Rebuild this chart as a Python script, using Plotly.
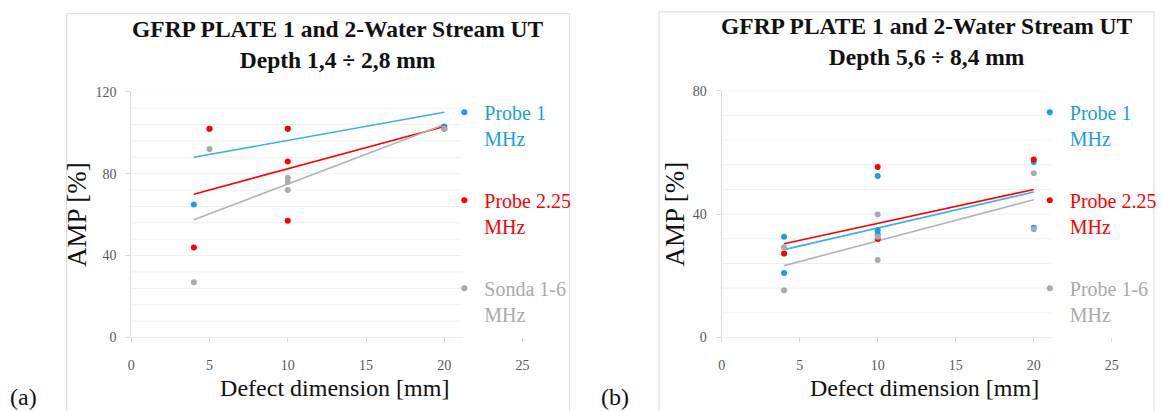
import plotly.graph_objects as go

# ---------------- data: panel (a) depth 1,4 ÷ 2,8 mm ----------------
a_p1_x = [4, 5, 10, 20]
a_p1_y = [65, 102, 102, 103]
a_p225_x = [4, 5, 10, 10, 10, 20]
a_p225_y = [44, 102, 102, 86, 57, 102]
a_s16_x = [4, 5, 10, 10, 10, 20]
a_s16_y = [27, 92, 78, 76, 72, 102]
# linear trend lines (end points)
a_trend_x = [4, 20]
a_p1_trend = [88, 110]
a_p225_trend = [70, 103]
a_s16_trend = [57.5, 104]

# ---------------- data: panel (b) depth 5,6 ÷ 8,4 mm ----------------
b_p1_x = [4, 4, 10, 10, 10, 20, 20]
b_p1_y = [32.7, 20.9, 52.4, 34.8, 33.5, 56.9, 35.6]
b_p225_x = [4, 10, 10, 20]
b_p225_y = [27.2, 55.3, 31.9, 57.7]
b_p16_x = [4, 4, 10, 10, 10, 20, 20]
b_p16_y = [29.3, 15.3, 39.9, 32.7, 25.1, 53.3, 35.1]
b_trend_x = [4, 20]
b_p1_trend = [28.5, 47.2]
b_p225_trend = [30.4, 48.0]
b_p16_trend = [23.3, 44.7]

x_ticks = [0, 5, 10, 15, 20, 25]
a_y_ticks = [0, 40, 80, 120]
b_y_ticks = [0, 40, 80]

a_names = ["Probe 1<br>MHz", "Probe 2.25<br>MHz", "Sonda 1-6<br>MHz"]
b_names = ["Probe 1<br>MHz", "Probe 2.25<br>MHz", "Probe 1-6<br>MHz"]
titles = ["GFRP PLATE 1 and 2-Water Stream UT<br>Depth 1,4 ÷ 2,8 mm",
          "GFRP PLATE 1 and 2-Water Stream UT<br>Depth 5,6 ÷ 8,4 mm"]
panel_labels = ["(a)", "(b)"]

BLUE = "#18a0dc"
BLUE_L = "#3fb0e6"
RED = "#ff0000"
GRAY = "#aaaaaa"
GRAY_L = "#b4b4b4"
SERIF = "Liberation Serif"

W, H = 1162, 411

def px_x(p):
    return p / W

def px_y(p):
    return (H - p) / H

fig = go.Figure()

def add_panel(xa, ya, leg, trend_x, trends, pts, names):
    colors = [BLUE, RED, GRAY]
    lcolors = [BLUE_L, RED, GRAY_L]
    for t, c in zip(trends, lcolors):
        fig.add_trace(go.Scatter(x=trend_x, y=t, mode="lines", line=dict(color=c, width=1.6),
                                 xaxis=xa, yaxis=ya, showlegend=False, hoverinfo="skip"))
    for i, ((xs, ys), c, n) in enumerate(zip(pts, colors, names)):
        fig.add_trace(go.Scatter(x=xs, y=ys, mode="markers",
                                 marker=dict(color=c, size=6),
                                 name=f"<span style='color:{c}'>{n}</span>",
                                 legendgroup=f"{leg}{i}",
                                 xaxis=xa, yaxis=ya, legend=leg))

add_panel("x", "y", "legend", a_trend_x, [a_p1_trend, a_p225_trend, a_s16_trend],
          [(a_p1_x, a_p1_y), (a_p225_x, a_p225_y), (a_s16_x, a_s16_y)], a_names)
add_panel("x2", "y2", "legend2", b_trend_x, [b_p1_trend, b_p225_trend, b_p16_trend],
          [(b_p1_x, b_p1_y), (b_p225_x, b_p225_y), (b_p16_x, b_p16_y)], b_names)

tickfont = dict(family=SERIF, size=14, color="#595959")
titlefont = dict(family=SERIF, size=24, color="#111111")

def xaxis_cfg(d0, d1, anchor):
    return dict(domain=[d0, d1], range=[0, 26], anchor=anchor, tickvals=x_ticks,
                showgrid=False, zeroline=False, showline=False,
                ticks="outside", ticklen=4, tickcolor="#d9d9d9", tickfont=tickfont,
                ticklabelstandoff=11,
                title=dict(text="Defect dimension [mm]", font=titlefont, standoff=6))

def yaxis_cfg(d0, d1, anchor, rng, tv):
    return dict(domain=[d0, d1], range=rng, anchor=anchor, tickvals=tv,
                showgrid=False, zeroline=False, showline=True, linecolor="#d9d9d9", linewidth=1,
                ticks="outside", ticklen=5, tickcolor="#d9d9d9", tickfont=tickfont,
                ticklabelstandoff=6,
                title=dict(text="AMP [%]", font=dict(family=SERIF, size=27, color="#111111"), standoff=0))

shapes = []
# panel frames
shapes.append(dict(type="rect", xref="paper", yref="paper", x0=px_x(63), x1=px_x(569),
                   y0=px_y(420), y1=px_y(7), line=dict(color="#d9d9d9", width=1), layer="below"))
shapes.append(dict(type="rect", xref="paper", yref="paper", x0=px_x(659), x1=px_x(1157),
                   y0=px_y(420), y1=px_y(5), line=dict(color="#d9d9d9", width=1), layer="below"))
# horizontal gridlines (Excel style, ending before the legend)
for xr, yr, top in [("x", "y", 120), ("x2", "y2", 80)]:
    for gv in range(0, top + 1, 8):
        shapes.append(dict(type="line", xref=xr, yref=yr, x0=0, x1=21.1, y0=gv, y1=gv,
                           line=dict(color="#d9d9d9" if gv == 0 else "#efefef", width=1),
                           layer="below"))

annotations = []
for xc, yc, t in [(336, 39, titles[0]), (929, 36, titles[1])]:
    annotations.append(dict(xref="paper", yref="paper", x=px_x(xc), y=px_y(yc),
                            xanchor="center", yanchor="middle", showarrow=False, text=f"<b>{t}</b>",
                            font=dict(family=SERIF, size=23.5, color="#111111")))
for xc, t in [(20, panel_labels[0]), (615, panel_labels[1])]:
    annotations.append(dict(xref="paper", yref="paper", x=px_x(xc), y=px_y(405),
                            xanchor="center", yanchor="middle", showarrow=False, text=t,
                            font=dict(family=SERIF, size=24, color="#111111")))

legend_common = dict(font=dict(family=SERIF, size=20), bgcolor="rgba(0,0,0,0)",
                     traceorder="grouped", tracegroupgap=33, valign="top",
                     itemwidth=30, itemsizing="trace", xanchor="left", yanchor="top")

fig.update_layout(
    width=W, height=H, margin=dict(l=0, r=0, t=0, b=0),
    paper_bgcolor="white", plot_bgcolor="rgba(0,0,0,0)",
    font=dict(family=SERIF),
    xaxis=xaxis_cfg(px_x(128), px_x(128 + 26 * 15.75), "y"),
    yaxis=yaxis_cfg(px_y(343), px_y(88), "x", [0, 120], a_y_ticks),
    xaxis2=xaxis_cfg(px_x(722), px_x(722 + 26 * 15.7), "y2"),
    yaxis2=yaxis_cfg(px_y(343), px_y(87), "x2", [0, 80], b_y_ticks),
    legend=dict(x=px_x(443), y=px_y(89), **legend_common),
    legend2=dict(x=px_x(1032), y=px_y(89), **legend_common),
    shapes=shapes, annotations=annotations,
)

fig.write_html("out.html")
